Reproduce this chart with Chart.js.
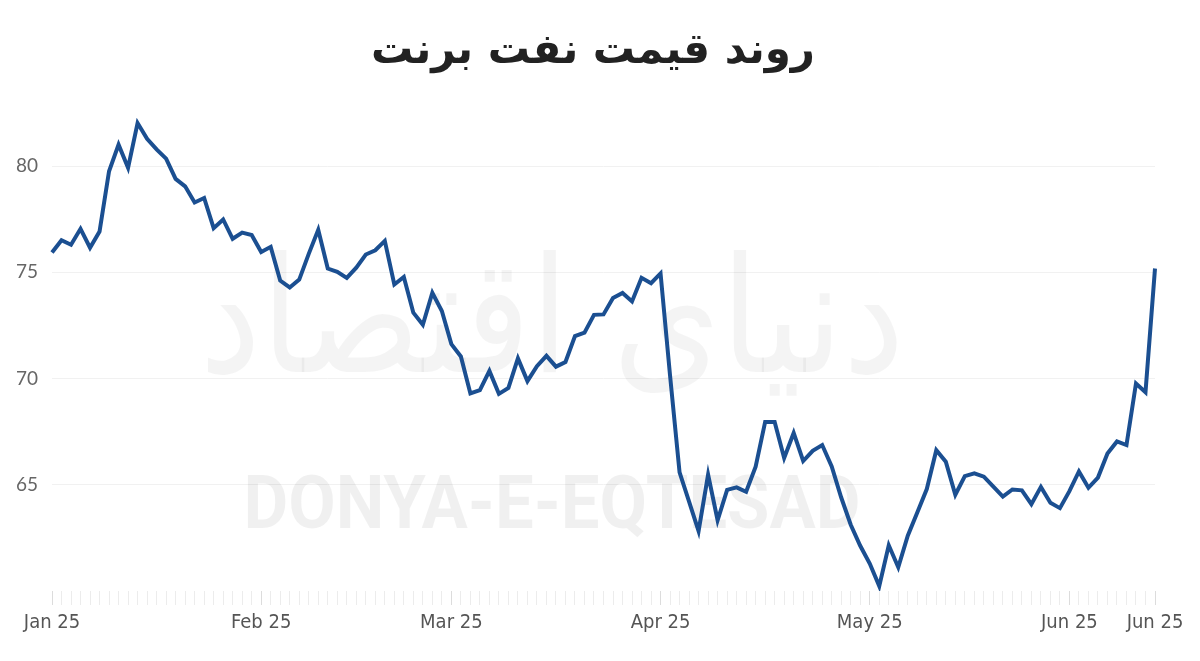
<!DOCTYPE html>
<html>
<head>
<meta charset="utf-8">
<script src="https://cdn.jsdelivr.net/npm/chart.js@4.4.1/dist/chart.umd.min.js"></script>
<style>
  html, body { margin: 0; padding: 0; background: #fff; }
  #wrap { width: 1200px; height: 661px; }
</style>
</head>
<body>
<div id="wrap"><canvas id="chart-1" width="1200" height="661"></canvas></div>
<script>
// trading days, 2025 (MM-DD)
const dates = [
  '01-02','01-03','01-06','01-07','01-08','01-09','01-10','01-13','01-14','01-15','01-16',
  '01-17','01-20','01-21','01-22','01-23','01-24','01-27','01-28','01-29','01-30','01-31',
  '02-03','02-04','02-05','02-06','02-07','02-10','02-11','02-12','02-13','02-14',
  '02-17','02-18','02-19','02-20','02-21','02-24','02-25','02-26','02-27','02-28',
  '03-03','03-04','03-05','03-06','03-07','03-10','03-11','03-12','03-13','03-14',
  '03-17','03-18','03-19','03-20','03-21','03-24','03-25','03-26','03-27','03-28','03-31',
  '04-01','04-02','04-03','04-04','04-07','04-08','04-09','04-10','04-11',
  '04-14','04-15','04-16','04-17','04-18','04-21','04-22','04-23','04-24','04-25',
  '04-28','04-29','04-30',
  '05-01','05-02','05-05','05-06','05-07','05-08','05-09','05-12','05-13','05-14','05-15','05-16',
  '05-19','05-20','05-21','05-22','05-23','05-26','05-27','05-28','05-29','05-30',
  '06-02','06-03','06-04','06-05','06-06','06-09','06-10','06-11','06-12','06-13'
]

// Brent price, USD/bbl
const brent = [
  75.93, 76.51, 76.30, 77.05, 76.16, 76.92, 79.76, 81.01, 79.92, 82.03, 81.29,
  80.79, 80.35, 79.40, 79.05, 78.29, 78.50, 77.08, 77.49, 76.58, 76.87, 76.76,
  75.96, 76.20, 74.61, 74.29, 74.66, 75.87, 77.00, 75.18, 75.02, 74.74,
  75.22, 75.84, 76.04, 76.48, 74.43, 74.78, 73.10, 72.53, 74.04, 73.18,
  71.62, 71.04, 69.30, 69.46, 70.36, 69.28, 69.56, 70.95, 69.88, 70.58,
  71.07, 70.56, 70.78, 72.00, 72.16, 73.00, 73.02, 73.79, 74.03, 73.63, 74.74,
  74.49, 74.95, 70.14, 65.58, 64.21, 62.82, 65.48, 63.33, 64.76,
  64.88, 64.67, 65.85, 67.96, 67.96, 66.26, 67.44, 66.12, 66.60, 66.87,
  65.86, 64.40, 63.12,
  62.13, 61.29, 60.23, 62.15, 61.12, 62.60, 63.70, 64.80, 66.63, 66.09, 64.53, 65.41,
  65.54, 65.38, 64.91, 64.44, 64.78, 64.74, 64.09, 64.90, 64.15, 63.90,
  64.70, 65.63, 64.86, 65.34, 66.47, 67.04, 66.87, 69.77, 69.36, 75.18
]

const tickDates = ['01-02', '02-03', '03-03', '04-02', '05-02', '06-02', '06-13']
const tickTexts = ['Jan 25', 'Feb 25', 'Mar 25', 'Apr 25', 'May 25', 'Jun 25', 'Jun 25']
const yTicks = [65, 70, 75, 80]

const title = 'روند قیمت نفت برنت'
const titleFont = 'bold 42px "DejaVu Sans"'

// light watermark behind the line
const watermark = {
  id: 'watermark',
  beforeDatasetsDraw(chart) {
    const ctx = chart.ctx
    ctx.save()
    ctx.fillStyle = 'rgba(0,0,0,0.06)'
    ctx.textAlign = 'center'
    ctx.textBaseline = 'alphabetic'

    ctx.font = 'bold 74px Roboto'
    let w = ctx.measureText('DONYA-E-EQTESAD').width
    ctx.save()
    ctx.translate(552, 528)
    ctx.scale(617 / w, 1)
    ctx.fillText('DONYA-E-EQTESAD', 0, 0)
    ctx.restore()

    ctx.fillStyle = 'rgba(0,0,0,0.045)'
    ctx.font = '140px "DejaVu Sans"'
    w = ctx.measureText('دنیای اقتصاد').width
    ctx.save()
    ctx.translate(552, 372)
    ctx.scale(705 / w, 1.15)
    ctx.fillText('دنیای اقتصاد', 0, 0)
    ctx.restore()
    ctx.restore()
  },
  // title centred on the whole canvas
  afterDraw(chart) {
    const ctx = chart.ctx
    ctx.save()
    ctx.font = titleFont
    ctx.fillStyle = '#222'
    ctx.textAlign = 'center'
    ctx.textBaseline = 'middle'
    ctx.fillText(title, 593, 52)
    ctx.restore()
  }
}

const ctx = document.getElementById('chart-1').getContext('2d')
new Chart(ctx, {
  type: 'line',
  data: {
    labels: dates,
    datasets: [{
      label: 'Brent',
      data: brent,
      borderColor: '#1b4f91',
      borderWidth: 4,
      pointRadius: 0,
      tension: 0,
      borderJoinStyle: 'miter'
    }]
  },
  options: {
    responsive: false,
    animation: false,
    layout: { padding: { left: 0, right: 45, top: 0, bottom: 20 } },
    plugins: {
      legend: { display: false },
      tooltip: { enabled: false },
      title: {
        // keeps the room for the title; the text itself is drawn by the plugin
        display: true,
        text: title,
        color: 'rgba(0,0,0,0)',
        font: { family: '"DejaVu Sans"', size: 42, weight: 'bold' },
        padding: { top: 28, bottom: 24 }
      }
    },
    scales: {
      x: {
        type: 'category',
        border: { display: false },
        grid: {
          drawOnChartArea: false,
          drawTicks: true,
          tickLength: 14,
          color: (c) => tickDates.includes(dates[c.index]) ? '#dcdcdc' : '#ececec'
        },
        ticks: {
          autoSkip: false,
          maxRotation: 0,
          padding: 6,
          color: '#555',
          font: { family: '"Liberation Sans Narrow", "DejaVu Sans Condensed", Roboto', size: 20 },
          callback: (v, i) => {
            const k = tickDates.indexOf(dates[i])
            return k >= 0 ? tickTexts[k] : ''
          }
        }
      },
      y: {
        min: 60,
        max: 83,
        border: { display: false },
        afterFit: (s) => { s.width = 52 },
        grid: {
          drawTicks: false,
          color: (c) => yTicks.includes(c.tick.value) ? '#f1f1f1' : 'rgba(0,0,0,0)'
        },
        ticks: {
          stepSize: 5,
          includeBounds: false,
          padding: 14,
          color: '#666',
          font: { family: 'Lato', size: 19 },
          callback: (v) => yTicks.includes(v) ? String(v) : ''
        }
      }
    }
  },
  plugins: [watermark]
})
</script>
</body>
</html>
